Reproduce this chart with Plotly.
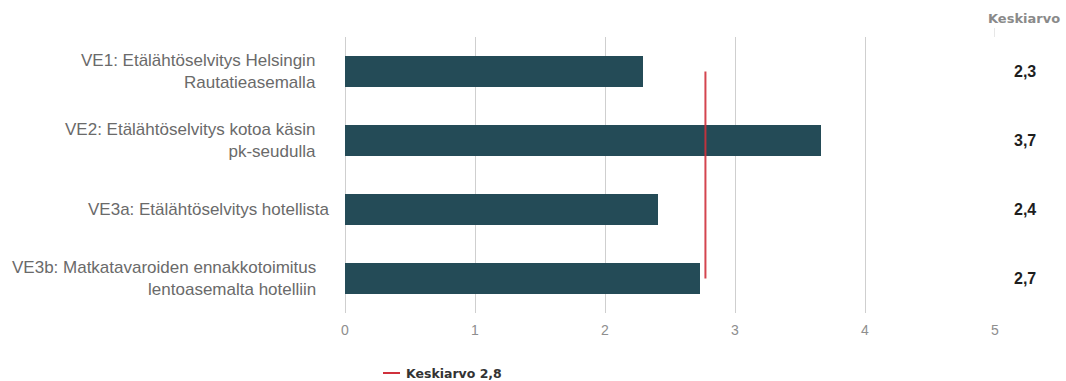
import plotly.graph_objects as go

# Survey items and their average scores (scale 0–5)
categories = [
    "VE1: Etälähtöselvitys Helsingin<br>Rautatieasemalla",
    "VE2: Etälähtöselvitys kotoa käsin<br>pk-seudulla",
    "VE3a: Etälähtöselvitys hotellista",
    "VE3b: Matkatavaroiden ennakkotoimitus<br>lentoasemalta hotelliin",
]
scores = [2.29, 3.66, 2.41, 2.73]
x_ticks = [0, 1, 2, 3, 4, 5]
column_title = "Keskiarvo"

mean_score = sum(scores) / len(scores)


def fi(v):
    """Format a number with one decimal and a Finnish decimal comma."""
    return f"{v:.1f}".replace(".", ",")


BAR = "#244b57"
RED = "#d0313c"
GRID = "#cfcfcf"
LABEL = "#6a6a6a"

W, H = 1066, 381
L, R, T, B = 345, 71, 37, 68
plot_w = W - L - R

y_idx = list(range(len(categories)))

fig = go.Figure()

fig.add_trace(go.Bar(
    x=scores,
    y=y_idx,
    orientation="h",
    marker=dict(color=BAR, line=dict(width=0)),
    width=0.435,
    showlegend=False,
    hoverinfo="x",
))

# Average line spanning from the first to the last item
fig.add_trace(go.Scatter(
    x=[mean_score, mean_score],
    y=[y_idx[0], y_idx[-1]],
    mode="lines",
    line=dict(color=RED, width=2),
    opacity=0.9,
    name=f"Keskiarvo {fi(mean_score)}",
    showlegend=False,
))


def px_to_paper_x(px):
    return (px - L) / plot_w


def px_to_paper_y(py):
    return 1 - (py - T) / (H - T - B)


annotations = []

# Category labels on the left, right-aligned
for i, label in enumerate(categories):
    right_edge = 318 if "<br>" in label else 332
    annotations.append(dict(
        x=px_to_paper_x(right_edge), xref="paper", xanchor="right",
        y=i, yref="y", yanchor="middle",
        text=label, align="right", showarrow=False,
        font=dict(family="Liberation Sans, Arial, sans-serif", size=17, color=LABEL),
    ))

# Value column on the right
annotations.append(dict(
    x=px_to_paper_x(1024), xref="paper", xanchor="center",
    y=px_to_paper_y(19), yref="paper", yanchor="middle",
    text=f"<b>{column_title}</b>", showarrow=False,
    font=dict(family="DejaVu Sans, sans-serif", size=13, color="#8a8a8a"),
))
for i, v in enumerate(scores):
    annotations.append(dict(
        x=px_to_paper_x(1025), xref="paper", xanchor="center",
        y=i, yref="y", yanchor="middle",
        text=f"<b>{fi(v)}</b>", showarrow=False,
        font=dict(family="Liberation Sans, Arial, sans-serif", size=16, color="#1e1e1e"),
    ))

# Legend entry for the average line
annotations.append(dict(
    x=px_to_paper_x(404), xref="paper", xanchor="left",
    y=px_to_paper_y(373), yref="paper", yanchor="middle",
    text=f"<b>Keskiarvo {fi(mean_score)}</b>", showarrow=False,
    font=dict(family="DejaVu Sans, sans-serif", size=12.5, color="#333333"),
))

shapes = [
    dict(type="line", xref="paper", yref="paper",
         x0=px_to_paper_x(383), x1=px_to_paper_x(400),
         y0=px_to_paper_y(373), y1=px_to_paper_y(373),
         line=dict(color=RED, width=2)),
    # Taller rule under the value column heading
    dict(type="line", xref="x", yref="paper",
         x0=x_ticks[-1], x1=x_ticks[-1],
         y0=px_to_paper_y(28), y1=1,
         line=dict(color=GRID, width=1), layer="below"),
]

fig.update_layout(
    width=W, height=H,
    margin=dict(l=L, r=R, t=T, b=B),
    paper_bgcolor="white",
    plot_bgcolor="white",
    showlegend=False,
    bargap=0,
    annotations=annotations,
    shapes=shapes,
    xaxis=dict(
        range=[0, 5],
        tickvals=x_ticks,
        ticktext=[str(t) for t in x_ticks],
        showgrid=True, gridcolor=GRID, gridwidth=1,
        zeroline=True, zerolinecolor=GRID, zerolinewidth=1,
        showline=False, ticks="",
        ticklabelstandoff=7,
        tickfont=dict(family="Liberation Sans, Arial, sans-serif", size=14, color="#8e8e8e"),
        fixedrange=True,
    ),
    yaxis=dict(
        range=[len(categories) - 0.5, -0.5],
        showticklabels=False, showgrid=False, zeroline=False, showline=False,
        fixedrange=True,
    ),
)

fig.write_html("out.html")
